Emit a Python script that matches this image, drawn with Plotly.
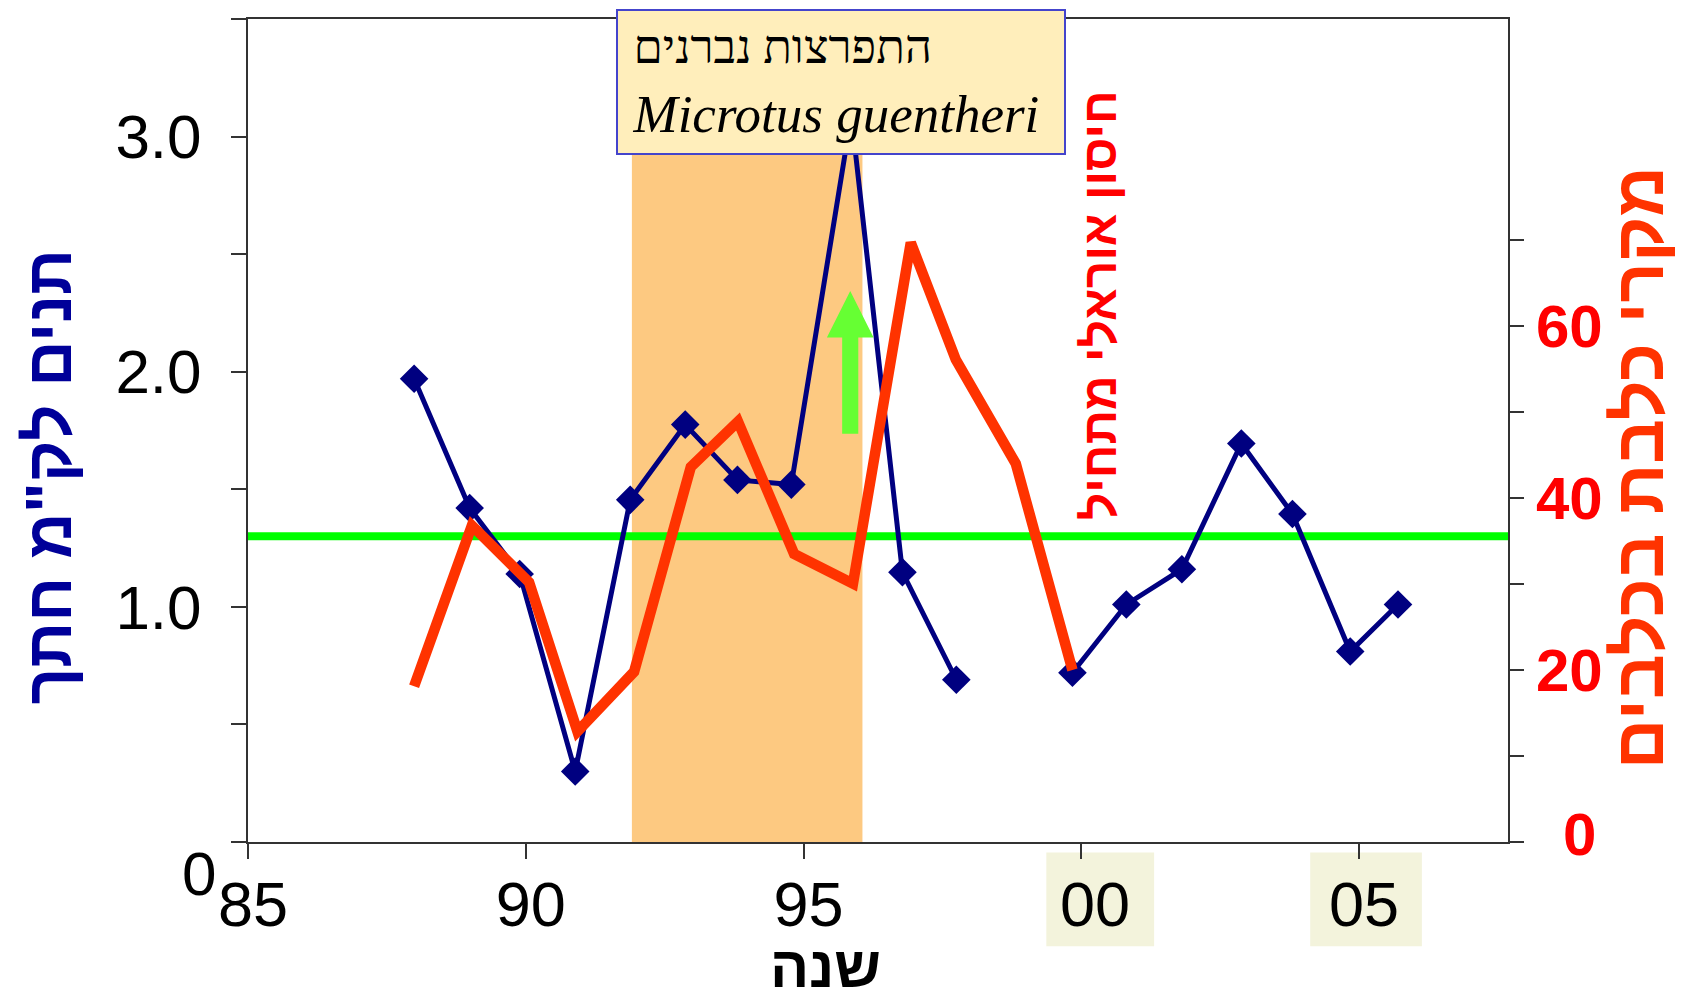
import plotly.graph_objects as go

# ---------------- data ----------------
jackal_years = [87.99, 88.99, 89.89, 90.89, 91.88, 92.87, 93.81, 94.78, 95.86, 96.78, 97.75,
                None, 99.84, 100.81, 101.81, 102.88, 103.80, 104.84, 105.70]
jackal_per_km = [1.97, 1.42, 1.14, 0.30, 1.455, 1.775, 1.54, 1.52, 3.09, 1.147, 0.69,
                 None, 0.72, 1.01, 1.16, 1.695, 1.395, 0.81, 1.01]

rabies_years = [87.99, 89.03, 90.06, 90.93, 91.95, 92.97, 93.82, 94.83, 95.89, 96.93, 97.74, 98.82, 99.84]
rabies_dogs = [18.1, 36.8, 30.2, 12.85, 19.8, 43.6, 48.9, 33.5, 30.05, 69.7, 56.1, 44.0, 20.0]

threshold = 1.3
vole_outbreak = [91.91, 96.06]
arrow_x = 95.84
arrow_y = [1.736, 2.146, 2.343]   # base, head base, tip

x_ticks = [85, 90, 95, 100, 105]
x_ticklabels = ["85", "90", "95", "&nbsp;00", "05"]
y_ticks = [0, 0.5, 1.0, 1.5, 2.0, 2.5, 3.0, 3.5]
y_ticklabels = ["", "", "1.0", "", "2.0", "", "3.0", ""]
y2_ticks = [0, 10, 20, 30, 40, 50, 60, 70]
y2_ticklabels = ["", "", "20", "", "40", "", "60", ""]
highlight_ticks = [[99.37, 101.31], [104.12, 106.13]]

title_left = "תנים לק\"מ חתך"
title_right = "מקרי כלבת בכלבים"
title_x = "שנה"
vacc_text = "חיסון אוראלי מתחיל"
box_line1 = "התפרצות נברנים"
box_line2 = "Microtus guentheri"

NAVY = "#000080"
ORANGE_RED = "#FF3300"
RED = "#FF0000"
AXIS = "#333333"

fig = go.Figure()

fig.add_trace(go.Scatter(
    x=jackal_years, y=jackal_per_km, mode="lines+markers",
    line=dict(color=NAVY, width=5),
    marker=dict(symbol="diamond", size=22, color=NAVY),
    connectgaps=False, yaxis="y", hoverinfo="skip"))

fig.add_trace(go.Scatter(
    x=rabies_years, y=rabies_dogs, mode="lines",
    line=dict(color=ORANGE_RED, width=10.5),
    yaxis="y2", hoverinfo="skip"))

shapes = []
# vole outbreak band
shapes.append(dict(type="rect", xref="x", yref="paper", x0=vole_outbreak[0], x1=vole_outbreak[1],
                   y0=0, y1=1, fillcolor="#FDC981", line=dict(width=0), layer="below"))
# threshold line
shapes.append(dict(type="line", xref="paper", yref="y", x0=0, x1=1, y0=threshold, y1=threshold,
                   line=dict(color="#00FF00", width=8), layer="below"))
# highlight boxes behind tick labels
for a, b in highlight_ticks:
    shapes.append(dict(type="rect", xref="x", yref="paper", x0=a, x1=b, y0=-0.0127, y1=-0.1266,
                       fillcolor="#F3F3DC", line=dict(width=0), layer="below"))
# green arrow
hs, hh = 0.145, 0.42
yb, yh, yt = arrow_y
path = (f"M {arrow_x-hs},{yb} L {arrow_x+hs},{yb} L {arrow_x+hs},{yh} L {arrow_x+hh},{yh} "
        f"L {arrow_x},{yt} L {arrow_x-hh},{yh} L {arrow_x-hs},{yh} Z")
shapes.append(dict(type="path", xref="x", yref="y", path=path, fillcolor="#66FF33",
                   line=dict(width=0), layer="above"))

pad = "<span style='font-size:22px'>&nbsp;</span>"
annotations = [
    dict(text="<b>" + title_left + "</b>", xref="paper", yref="paper", x=-0.158, y=0.444,
         textangle=-90, showarrow=False, xanchor="center", yanchor="middle",
         font=dict(family="Liberation Sans", size=64, color="#000099")),
    dict(text="<b>" + title_right + "</b>", xref="paper", yref="paper", x=1.1037, y=0.455,
         textangle=-90, showarrow=False, xanchor="center", yanchor="middle",
         font=dict(family="Liberation Sans", size=70, color=ORANGE_RED)),
    dict(text="<b>" + title_x + "</b>", xref="paper", yref="paper", x=0.4587, y=-0.151,
         showarrow=False, xanchor="center", yanchor="middle",
         font=dict(family="Liberation Sans", size=58, color="black")),
    dict(text="<b>" + vacc_text + "</b>", xref="paper", yref="paper", x=0.676, y=0.652,
         textangle=-90, showarrow=False, xanchor="center", yanchor="middle",
         font=dict(family="Liberation Sans", size=48, color=RED)),
    dict(text=pad + "<span style='font-size:47px'>" + box_line1 + "</span><br>" + pad
              + "<i>" + box_line2 + "</i>",
         xref="paper", yref="paper",
         x=0.292, y=1.0121, xanchor="left", yanchor="top", align="left", showarrow=False,
         width=426, borderpad=10, bgcolor="#FFEEBB", bordercolor="#4444CC", borderwidth=2,
         font=dict(family="Liberation Serif", size=53, color="black")),
    dict(text="0", xref="paper", yref="paper", x=-0.0385, y=-0.038, showarrow=False,
         xanchor="center", yanchor="middle",
         font=dict(family="Liberation Sans", size=62, color="black")),
    dict(text="<b>0</b>", xref="paper", yref="y2", x=1.0, y=0, xshift=90, yshift=8,
         showarrow=False, xanchor="right", yanchor="middle",
         font=dict(family="Liberation Sans", size=60, color=RED)),
]

# the page body has an 8px margin: shrink the figure so the plot area lands where intended
fig.update_layout(
    width=1675, height=990,
    margin=dict(l=240, r=175, t=9, b=156),
    paper_bgcolor="white", plot_bgcolor="white",
    showlegend=False,
    shapes=shapes, annotations=annotations,
    xaxis=dict(range=[85, 107.68], showgrid=False, zeroline=False,
               showline=True, linecolor=AXIS, linewidth=2, mirror=True,
               ticks="outside", ticklen=15, tickwidth=1.5, tickcolor=AXIS,
               tickvals=x_ticks, ticktext=x_ticklabels, ticklabelstandoff=-9,
               ticklabelshift=5,
               tickfont=dict(family="Liberation Sans", size=63, color="black")),
    yaxis=dict(range=[0, 3.5], showgrid=False, zeroline=False,
               showline=True, linecolor=AXIS, linewidth=2,
               ticks="outside", ticklen=15, tickwidth=1.5, tickcolor=AXIS,
               tickvals=y_ticks, ticktext=y_ticklabels, ticklabelstandoff=17,
               tickfont=dict(family="Liberation Sans", size=62, color="black")),
    yaxis2=dict(range=[0, 95.7], overlaying="y", side="right", showgrid=False, zeroline=False,
                showline=True, linecolor=AXIS, linewidth=2,
                ticks="outside", ticklen=14, tickwidth=1.5, tickcolor=AXIS,
                tickvals=y2_ticks, ticktext=y2_ticklabels, ticklabelstandoff=0,
                tickfont=dict(family="Liberation Sans", size=60, color=RED, weight="bold")),
)

fig.write_html("out.html")
